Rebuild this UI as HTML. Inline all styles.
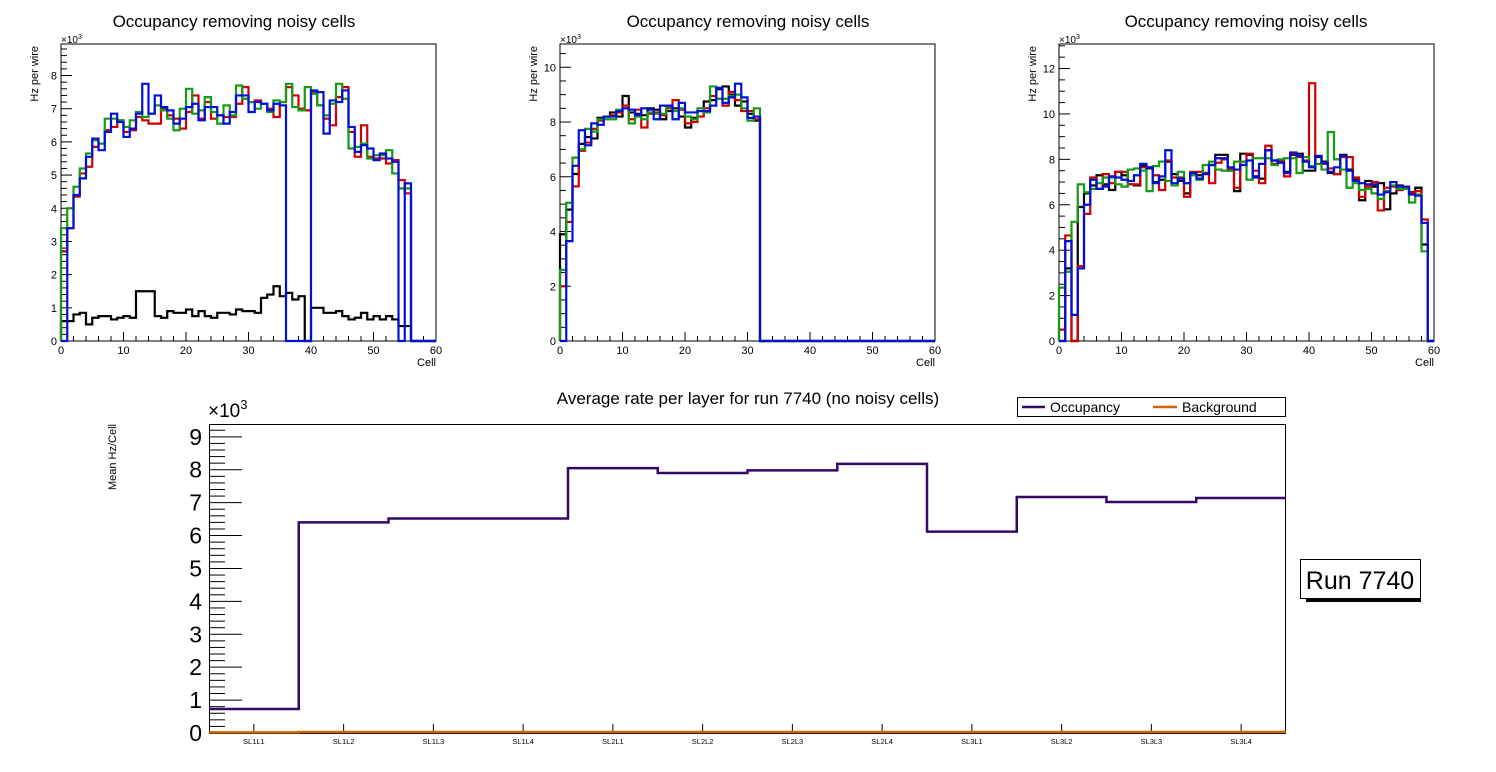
<!DOCTYPE html>
<html><head><meta charset="utf-8"><style>
html,body{margin:0;padding:0;background:#fff;}
svg{display:block;font-family:"Liberation Sans",Arial,sans-serif;}
</style></head><body>
<svg id="root" width="1496" height="772" viewBox="0 0 1496 772">
<text x="234" y="27" font-size="17" text-anchor="middle">Occupancy removing noisy cells</text>
<text x="748" y="27" font-size="17" text-anchor="middle">Occupancy removing noisy cells</text>
<text x="1246" y="27" font-size="17" text-anchor="middle">Occupancy removing noisy cells</text>
<text x="748" y="404" font-size="17" text-anchor="middle">Average rate per layer for run 7740 (no noisy cells)</text>
<g id="legend">
<rect x="1017.5" y="397.5" width="268" height="19" fill="#fff" stroke="#000" stroke-width="1"/>
<line x1="1022" y1="407" x2="1045" y2="407" stroke="#330a66" stroke-width="2.5"/>
<text x="1050" y="412" font-size="14">Occupancy</text>
<line x1="1153" y1="407" x2="1177" y2="407" stroke="#cc6600" stroke-width="2.5"/>
<text x="1182" y="412" font-size="14">Background</text>
</g>
<rect x="1306" y="595" width="115" height="7" fill="#000"/>
<rect x="1300.5" y="559.5" width="120" height="39" fill="#fff" stroke="#000" stroke-width="1"/>
<text x="1360" y="589" font-size="25" text-anchor="middle">Run 7740</text>
</svg>
<script>
// ---- Panel data (x10^3 Hz per wire), bins 0..59 ----
const p1Black=[0.6,0.6,0.8,0.85,0.5,0.7,0.75,0.75,0.65,0.7,0.75,0.7,1.5,1.5,1.5,0.75,0.7,0.9,0.85,0.85,0.95,0.75,0.9,0.75,0.7,0.85,0.85,0.8,0.95,0.9,0.9,0.85,1.3,1.4,1.65,1.35,1.45,1.25,1.35,0,1.0,1.0,0.85,0.85,0.9,0.75,0.65,0.7,0.85,0.65,0.75,0.65,0.75,0.65,0.45,0.45,0,0,0,0];
const p1Red=[2.7,3.4,4.35,5.05,5.25,5.85,5.95,6.35,6.45,6.65,6.3,6.35,6.75,6.65,6.55,6.55,7.0,6.8,6.7,6.4,6.9,7.4,6.7,7.2,6.7,6.8,6.75,6.75,7.15,7.65,7.2,7.25,7.15,7.0,6.75,7.2,7.65,7.4,7.0,6.95,7.5,7.1,6.7,6.5,7.35,7.65,6.3,5.55,6.5,5.55,5.5,5.5,5.35,5.45,4.85,4.45,0,0,0,0];
const p1Green=[3.4,4.0,4.65,5.2,5.65,6.05,5.95,6.7,6.7,6.65,6.45,6.65,6.9,6.75,6.85,7.1,6.95,6.7,6.35,7.0,7.6,6.85,6.95,7.35,6.9,6.55,7.1,6.8,7.7,7.3,7.2,7.0,7.15,6.9,7.25,7.2,7.75,7.05,6.95,7.65,7.45,7.1,6.8,7.15,7.75,7.3,5.8,5.85,5.95,5.5,5.6,5.6,5.75,5.05,4.6,4.6,0,0,0,0];
const p1Blue=[0,3.4,4.4,4.9,5.55,6.1,5.75,6.3,6.85,6.6,6.15,6.4,6.85,7.75,6.85,7.4,7.05,6.95,6.55,6.7,7.05,7.15,6.65,7.05,7.05,6.8,6.55,6.9,7.4,7.4,6.9,7.2,7.15,6.95,7.15,7.1,0,0,0,0,7.55,7.5,6.25,7.25,7.2,7.55,6.45,5.7,5.9,5.8,5.45,5.65,5.5,5.4,0,4.75,0,0,0,0];

const p2Black=[3.9,4.8,6.1,7.2,7.45,7.4,8.15,8.2,8.35,8.2,8.95,8.35,8.3,8.25,8.5,8.45,8.1,8.4,8.5,8.2,7.8,8.15,8.4,8.75,8.8,9.2,9.3,9.0,8.6,8.75,8.3,8.05];
const p2Red=[2.0,4.35,5.65,6.95,7.25,7.75,8.05,8.2,8.25,8.35,8.6,8.1,8.45,7.8,8.3,8.35,8.25,8.5,8.8,8.45,7.95,8.0,8.2,8.5,8.95,8.85,8.6,9.1,8.8,8.4,8.4,8.1];
const p2Green=[2.6,5.05,6.7,7.0,7.75,7.65,8.1,8.1,8.1,8.45,8.5,7.95,8.2,8.1,8.35,8.3,8.3,8.55,8.4,8.5,8.2,8.1,8.5,8.35,9.3,8.85,8.85,8.95,9.0,8.5,8.05,8.5];
const p2Blue=[0,3.65,6.4,7.7,7.15,7.95,7.9,8.2,8.2,8.4,8.5,8.45,8.25,8.5,8.45,8.1,8.6,8.6,8.1,8.7,8.35,8.35,8.4,8.4,8.6,9.25,8.7,8.9,9.4,8.9,8.15,8.2];

const p3Black=[0,3.2,0,5.9,6.5,6.85,7.3,6.9,6.65,7.45,7.3,6.9,6.85,7.7,7.6,7.0,7.1,7.9,7.35,7.05,6.5,7.4,7.3,7.4,7.75,8.2,8.2,7.5,6.6,8.25,8.2,7.25,7.15,8.4,7.95,7.9,7.45,8.2,8.25,7.5,7.5,8.1,7.9,7.4,7.35,8.2,7.55,7.1,6.2,7.05,6.8,6.95,5.8,6.5,6.85,6.8,6.55,6.75,4.25,0];
const p3Red=[0.5,4.65,0,3.3,5.6,7.2,6.7,7.35,6.95,7.45,7.45,6.9,6.9,7.65,7.65,7.3,6.65,7.95,7.2,7.2,6.35,7.45,7.45,7.4,6.95,7.85,8.0,7.6,6.75,7.9,8.25,7.5,6.95,8.6,7.8,7.95,7.25,8.25,8.1,7.95,11.35,8.15,7.8,7.6,7.35,8.1,8.1,7.2,6.35,6.8,7.0,5.75,6.75,6.8,6.65,6.75,6.5,6.6,5.35,0];
const p3Green=[2.35,3.05,5.25,6.9,6.55,6.7,6.95,7.2,7.2,6.9,6.8,7.55,7.6,7.5,6.6,7.7,7.9,7.05,6.85,7.45,6.95,7.3,7.1,7.75,7.9,7.55,7.5,7.5,7.9,7.9,7.1,8.05,8.05,8.05,7.75,8.0,8.05,8.05,7.4,8.1,7.7,7.8,7.55,9.2,8.0,7.55,6.75,6.95,6.65,6.7,6.5,6.25,6.6,6.85,6.7,6.7,6.1,6.45,3.95,0];
const p3Blue=[0,4.4,1.15,3.2,6.0,7.1,6.7,6.8,7.25,7.2,7.1,7.05,7.3,7.8,7.65,6.95,7.25,8.4,6.95,7.15,6.95,7.4,7.15,7.35,7.75,8.05,8.05,7.65,7.55,7.75,7.95,7.2,7.8,8.4,7.95,7.85,7.4,8.3,8.15,7.9,7.65,8.15,7.85,7.45,7.65,8.15,7.5,7.05,6.95,6.9,6.9,6.45,6.55,7.0,6.8,6.8,6.45,6.4,5.2,0];

const xTicks=[0,10,20,30,40,50,60];
const p1YTicks=[0,1,2,3,4,5,6,7,8];
const p2YTicks=[0,2,4,6,8,10];
const p3YTicks=[0,2,4,6,8,10,12];

// ---- Summary data (x10^3 Hz/Cell) ----
const layers=["SL1L1","SL1L2","SL1L3","SL1L4","SL2L1","SL2L2","SL2L3","SL2L4","SL3L1","SL3L2","SL3L3","SL3L4"];
const occupancy=[0.73,6.4,6.52,6.52,8.05,7.9,7.98,8.18,6.12,7.17,7.02,7.14];
const background=[0.02,0.03,0.03,0.03,0.03,0.03,0.03,0.03,0.03,0.03,0.03,0.03];
const sumYTicks=[0,1,2,3,4,5,6,7,8,9];

const NS="http://www.w3.org/2000/svg";
const root=document.getElementById('root');
function mk(tag,attrs,parent){const e=document.createElementNS(NS,tag);for(const k in attrs)e.setAttribute(k,attrs[k]);(parent||root).appendChild(e);return e;}

function panel(id,L,R,T,B,ymax,yTicks,yMinor,series){
  const g=mk('g',{});
  
  
  const xs=v=>L+(R-L)*v/60, ys=v=>B-(B-T)*v/ymax;
  const frame=mk('rect',{x:L,y:T,width:R-L,height:B-T,fill:'none',stroke:'#000','stroke-width':1},g);
  
  
  // x ticks
  for(let c=0;c<=60;c+=2){const big=c%10===0;mk('line',{x1:xs(c),y1:B,x2:xs(c),y2:B-(big?9:5),stroke:'#000','stroke-width':1},g);}
  for(const t of xTicks){const tx=mk('text',{x:xs(t),y:B+13,'font-size':11,'text-anchor':'middle'},g);tx.textContent=t;
    
    }
  for(let v=0;v<=ymax+1e-9;v+=yMinor){const big=Math.abs(v/ (yTicks[1]-yTicks[0]) - Math.round(v/(yTicks[1]-yTicks[0])))<1e-6;mk('line',{x1:L,y1:ys(v),x2:L+(big?11:6),y2:ys(v),stroke:'#000','stroke-width':1},g);}
  for(const t of yTicks){const tx=mk('text',{x:L-4,y:ys(t)+4,'font-size':11,'text-anchor':'end'},g);tx.textContent=t;
    
    }
  const ex=mk('text',{x:L,y:T-1,'font-size':10},g);ex.innerHTML='×10<tspan dy="-4" font-size="7">3</tspan>';
  
  
  const yl=mk('text',{x:0,y:0,'font-size':11,'text-anchor':'end',transform:`translate(${L-23},${T+2}) rotate(-90)`},g);yl.textContent='Hz per wire';
  
  
  const xl=mk('text',{x:R,y:B+25,'font-size':11,'text-anchor':'end'},g);xl.textContent='Cell';
  
  
  for(const [name,data,col] of series){
    let d=`M${xs(0)},${B}`;
    data.forEach((v,i)=>{d+=` L${xs(i)},${ys(v)} L${xs(i+1)},${ys(v)}`;});
    d+=` L${xs(data.length)},${B}`;
    if(data.length<60) d+=` L${xs(60)},${B}`;
    const p=mk('path',{d:d,fill:'none',stroke:col,'stroke-width':2.2},g);
    
    
  }
}
const cols={black:'#000000',red:'#d00000',green:'#149a14',blue:'#0010d8'};
panel('panel1',61,436,44,341,8.95,p1YTicks,0.2,[['black',p1Black,cols.black],['red',p1Red,cols.red],['green',p1Green,cols.green],['blue',p1Blue,cols.blue]]);
panel('panel2',560,935,44,341,10.85,p2YTicks,0.5,[['black',p2Black,cols.black],['red',p2Red,cols.red],['green',p2Green,cols.green],['blue',p2Blue,cols.blue]]);
panel('panel3',1059,1434,44,341,13.08,p3YTicks,0.5,[['black',p3Black,cols.black],['red',p3Red,cols.red],['green',p3Green,cols.green],['blue',p3Blue,cols.blue]]);

// ---- summary chart ----
(function(){
  const L=209,R=1286,T=424,B=733,ymax=9.39;
  const g=mk('g',{});
  
  
  const bw=(R-L)/layers.length;
  const xs=i=>L+bw*i, ys=v=>B-(B-T)*v/ymax;
  const fr=mk('rect',{x:L+0.5,y:T+0.5,width:R-L-1,height:B-T,fill:'none',stroke:'#000','stroke-width':1},g);
  
  
  for(let v=0;v<=ymax+1e-9;v+=0.2){const big=Math.abs(v-Math.round(v))<1e-6;mk('line',{x1:L,y1:ys(v),x2:L+(big?33:16),y2:ys(v),stroke:'#000','stroke-width':1},g);}
  for(const t of sumYTicks){const tx=mk('text',{x:L-7,y:ys(t)+8,'font-size':23,'text-anchor':'end'},g);tx.textContent=t;
    
    }
  const ex=mk('text',{x:L-1,y:T-7,'font-size':19},g);ex.innerHTML='×10<tspan dy="-8" font-size="13">3</tspan>';
  
  
  const yl=mk('text',{x:0,y:0,'font-size':11,'text-anchor':'end',transform:`translate(116,424) rotate(-90)`},g);yl.textContent='Mean Hz/Cell';
  
  
  layers.forEach((n,i)=>{const cx=xs(i)+bw/2;mk('line',{x1:cx,y1:B,x2:cx,y2:B-9,stroke:'#000','stroke-width':1},g);
    const tx=mk('text',{x:cx,y:B+11,'font-size':7.5,'text-anchor':'middle'},g);tx.textContent=n;
    
    });
  function step(data){let d=`M${xs(0)},${ys(data[0])}`;data.forEach((v,i)=>{d+=` L${xs(i)},${ys(v)} L${xs(i+1)},${ys(v)}`;});return d;}
  const pb=mk('path',{d:step(background),fill:'none',stroke:'#cc6600','stroke-width':2.5},g);
  
  
  const po=mk('path',{d:step(occupancy),fill:'none',stroke:'#330a66','stroke-width':2.5},g);
  
  
})();
</script>
</body></html>
